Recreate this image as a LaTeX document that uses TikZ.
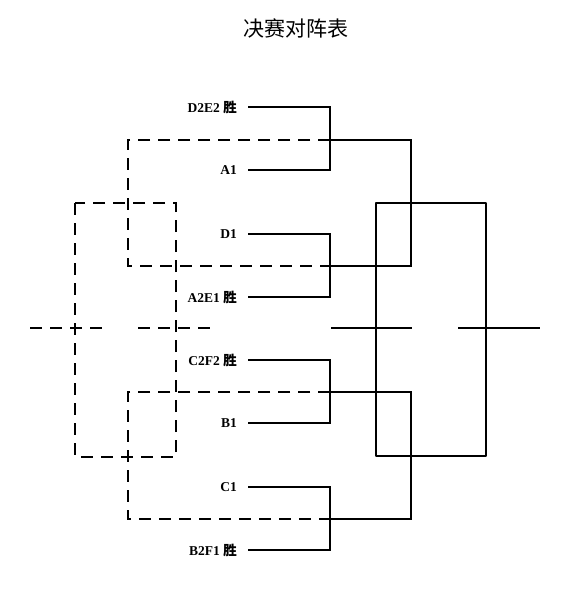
\documentclass[tikz,border=0pt]{standalone}
\usepackage{fontspec}
\setmainfont{Liberation Serif}
\newfontfamily\cjk{Noto Sans CJK SC}
\begin{document}
\begin{tikzpicture}[x=1pt,y=-1pt,
  lbl/.style={anchor=east,inner sep=0pt,font=\fontsize{13.5}{13.5}\selectfont\bfseries},
  thinline/.style={line width=1.7pt,line join=miter},
  thickline/.style={line width=2.9pt,line join=round},
  dashline/.style={line width=2.7pt,dash pattern=on 12pt off 8pt}]
\useasboundingbox (0,0) rectangle (568,600);
\node[font=\cjk\fontsize{21}{21}\selectfont] (title) at (296,28) {决赛对阵表};
% labels
\node[lbl] (n1) at (237,107) {D2E2 {\cjk\bfseries 胜}};
\node[lbl] (n2) at (237,170) {A1};
\node[lbl] (n3) at (237,234) {D1};
\node[lbl] (n4) at (237,297) {A2E1 {\cjk\bfseries 胜}};
\node[lbl] (n5) at (237,360) {C2F2 {\cjk\bfseries 胜}};
\node[lbl] (n6) at (237,423) {B1};
\node[lbl] (n7) at (237,487) {C1};
\node[lbl] (n8) at (237,550) {B2F1 {\cjk\bfseries 胜}};
% junction points
\coordinate (j1) at (330,140);
\coordinate (j2) at (330,266);
\coordinate (j3) at (330,392);
\coordinate (j4) at (330,519);
% dashed part
\draw[dashline] (j1) -- (128,140) -- (128,266) -- (j2);
\draw[dashline] (j3) -- (128,392) -- (128,519) -- (j4);
\draw[dashline] (75,203) rectangle (176,457);
\coordinate (dl1) at (30,328);
\coordinate (dl2) at (105,328);
\coordinate (dl3) at (138,328);
\coordinate (dl4) at (215,328);
\draw[dashline] (dl1) -- (dl2);
\draw[dashline] (dl3) -- (dl4);
% brackets
\draw[thinline] ([xshift=11pt]n1.east) -| (j1) |- ([xshift=11pt]n2.east);
\draw[thinline] ([xshift=11pt]n3.east) -| (j2) |- ([xshift=11pt]n4.east);
\draw[thinline] ([xshift=11pt]n5.east) -| (j3) |- ([xshift=11pt]n6.east);
\draw[thinline] ([xshift=11pt]n7.east) -| (j4) |- ([xshift=11pt]n8.east);
\draw[thinline] (j1) -- ++(81,0) |- (j2);
\draw[thinline] (j3) -- ++(81,0) |- (j4);
% final box
\draw[thickline] (376,203) rectangle (486,456);
\coordinate (sl1) at (331,328);
\coordinate (sl2) at (412,328);
\coordinate (sl3) at (458,328);
\coordinate (sl4) at (540,328);
\draw[thickline] (sl1) -- (sl2);
\draw[thickline] (sl3) -- (sl4);
\end{tikzpicture}
\end{document}
